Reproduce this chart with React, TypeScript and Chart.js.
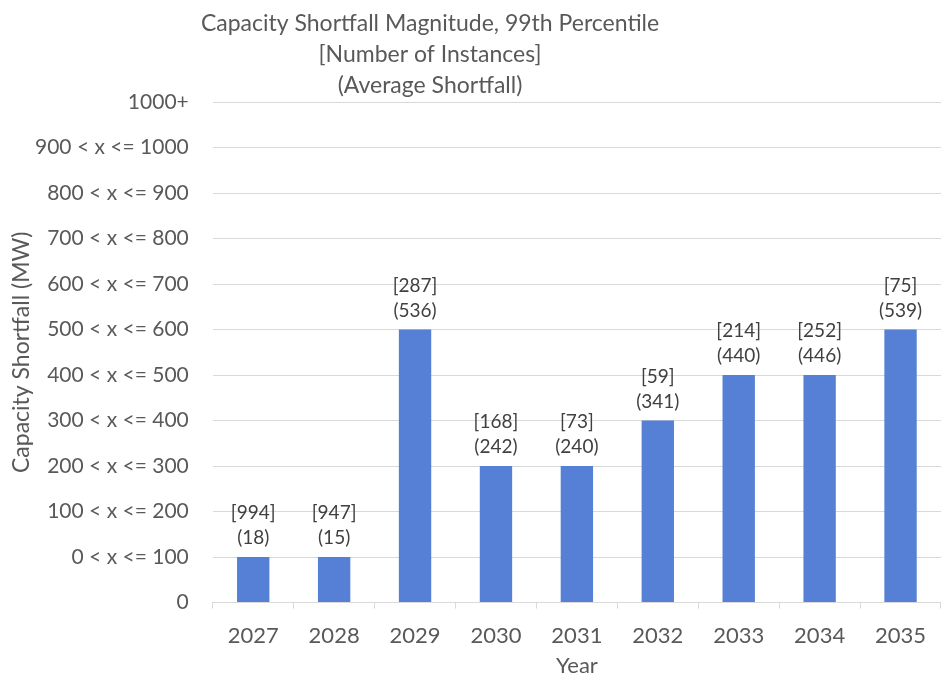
import React, { useEffect, useRef } from "react";
import { Chart, registerables } from "chart.js";

Chart.register(...registerables);

const years = ["2027", "2028", "2029", "2030", "2031", "2032", "2033", "2034", "2035"];
const binValues = [100, 100, 600, 300, 300, 400, 500, 500, 600];
const instances = [994, 947, 287, 168, 73, 59, 214, 252, 75];
const avgShortfall = [18, 15, 536, 242, 240, 341, 440, 446, 539];
const yTickLabels = [
  "0",
  "0 < x <= 100",
  "100 < x <= 200",
  "200 < x <= 300",
  "300 < x <= 400",
  "400 < x <= 500",
  "500 < x <= 600",
  "600 < x <= 700",
  "700 < x <= 800",
  "800 < x <= 900",
  "900 < x <= 1000",
  "1000+",
];
const titleLines = [
  "Capacity Shortfall Magnitude, 99th Percentile",
  "[Number of Instances]",
  "(Average Shortfall)",
];
const yAxisTitle = "Capacity Shortfall (MW)";
const xAxisTitle = "Year";

const FONT = "Lato, 'Open Sans', sans-serif";
const TEXT = "#595959";

const titlePlugin = {
  id: "customTitle",
  afterDraw(chart: any) {
    const ctx = chart.ctx;
    const area = chart.chartArea;
    ctx.save();
    ctx.font = `23px ${FONT}`;
    ctx.fillStyle = TEXT;
    ctx.textAlign = "center";
    ctx.textBaseline = "middle";
    titleLines.forEach((t, i) => ctx.fillText(t, 430, 24 + i * 31));
    ctx.font = `22px ${FONT}`;
    ctx.fillText(xAxisTitle, (area.left + area.right) / 2, area.bottom + 63);
    ctx.font = `23px ${FONT}`;
    ctx.translate(22, (area.top + area.bottom) / 2);
    ctx.rotate(-Math.PI / 2);
    ctx.fillText(yAxisTitle, 0, 0);
    ctx.restore();
  },
};

const labelPlugin = {
  id: "barLabels",
  afterDatasetsDraw(chart: any) {
    const ctx = chart.ctx;
    const meta = chart.getDatasetMeta(0);
    ctx.save();
    ctx.font = `19px ${FONT}`;
    ctx.fillStyle = "#404040";
    ctx.textAlign = "center";
    ctx.textBaseline = "middle";
    meta.data.forEach((bar: any, i: number) => {
      ctx.fillText(`[${instances[i]}]`, bar.x, bar.y - 44);
      ctx.fillText(`(${avgShortfall[i]})`, bar.x, bar.y - 19);
    });
    ctx.restore();
  },
};

export default function App() {
  const ref = useRef<HTMLCanvasElement>(null);
  useEffect(() => {
    if (!ref.current) return;
    const chart = new Chart(ref.current, {
      type: "bar",
      data: {
        labels: years,
        datasets: [
          {
            data: binValues,
            backgroundColor: "#5580D6",
            barPercentage: 0.4,
            categoryPercentage: 1,
          },
        ],
      },
      options: {
        animation: false,
        responsive: true,
        maintainAspectRatio: false,
        layout: { padding: { top: 102, right: 0, left: 11, bottom: 14 } },
        plugins: { legend: { display: false }, tooltip: { enabled: false }, title: { display: false } },
        scales: {
          x: {
            offset: true,
            grid: { display: true, drawOnChartArea: false, drawTicks: true, tickLength: 6, offset: true, color: "#d9d9d9" },
            border: { display: true, color: "#d9d9d9" },
            ticks: { color: TEXT, font: { family: FONT, size: 22 }, padding: 14 },
            title: { display: false },
          },
          y: {
            min: 0,
            max: 1100,
            grid: { color: "#d9d9d9", drawTicks: false },
            border: { display: false },
            ticks: {
              stepSize: 100,
              color: TEXT,
              font: { family: FONT, size: 21 },
              padding: 24,
              callback: (v: any) => yTickLabels[Math.round(Number(v) / 100)],
            },
            title: { display: false },
          },
        },
      },
      plugins: [titlePlugin, labelPlugin],
    });
    return () => chart.destroy();
  }, []);
  return (
    <div style={{ position: "absolute", left: 0, top: 0, width: 941, height: 677, background: "#fff" }}>
      <canvas ref={ref} />
    </div>
  );
}
